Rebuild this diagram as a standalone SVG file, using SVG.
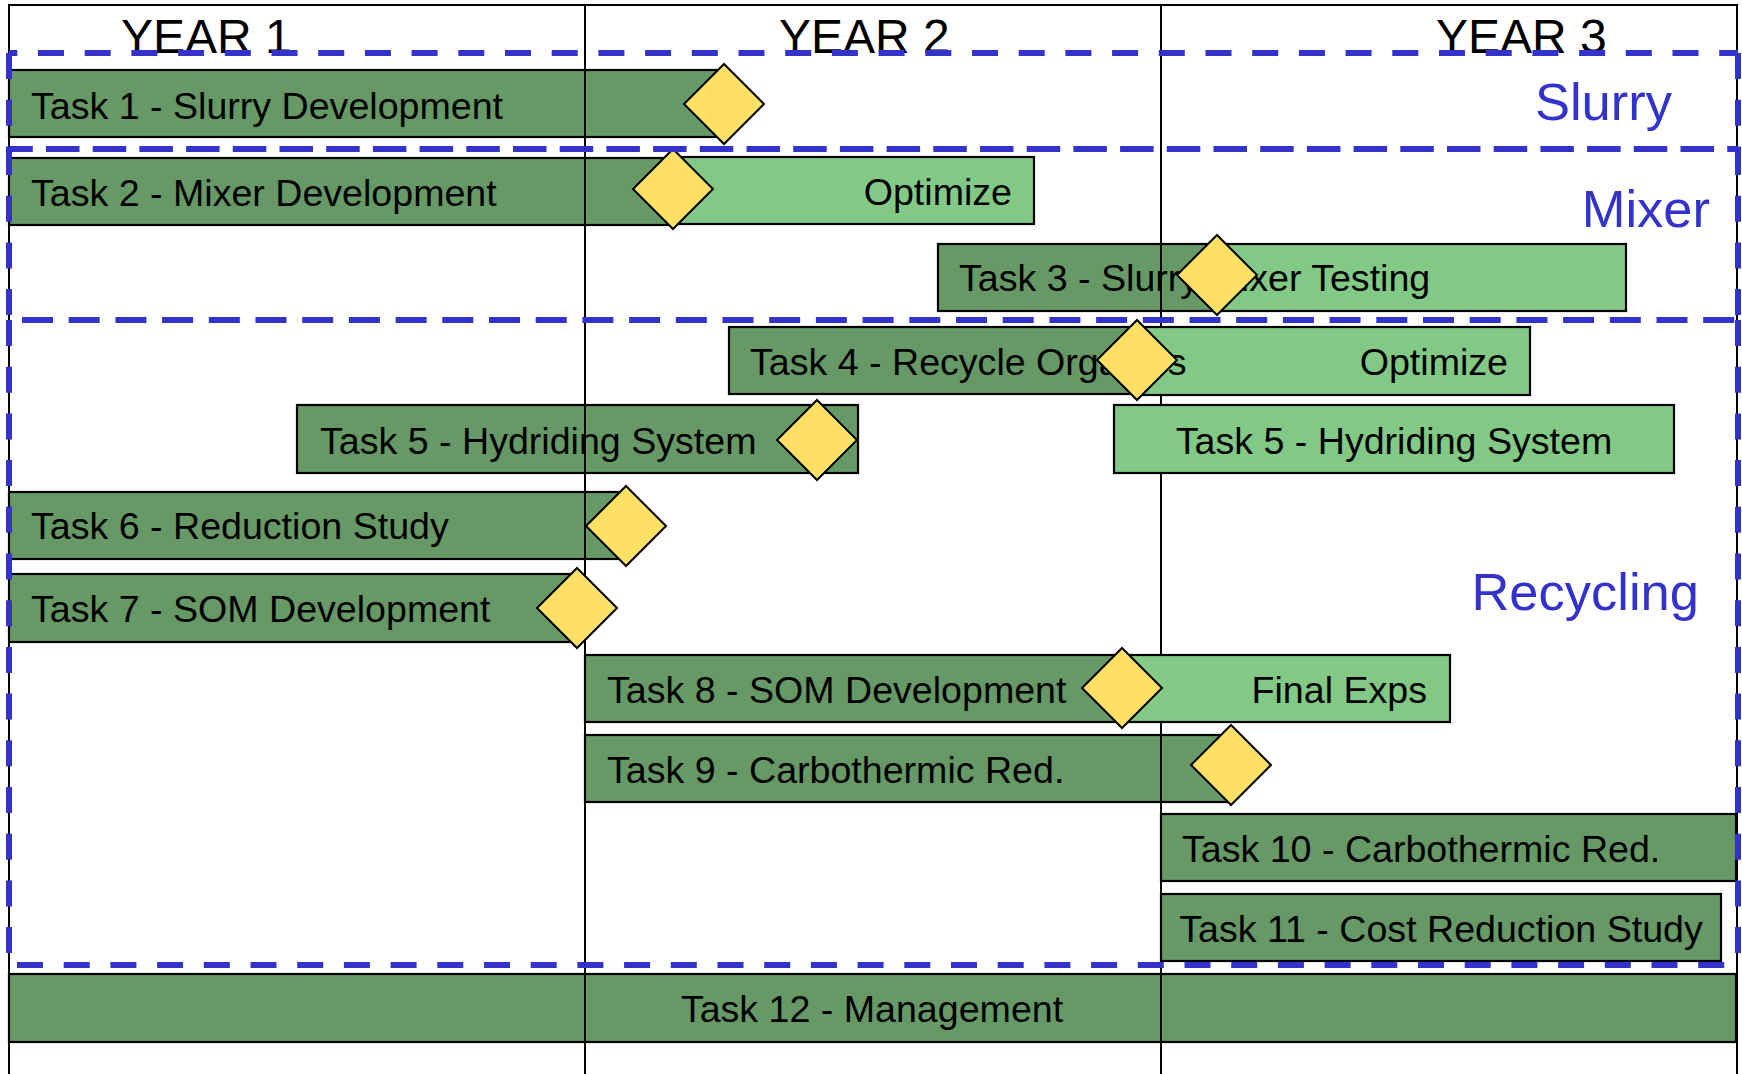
<svg xmlns="http://www.w3.org/2000/svg" width="1742" height="1074" viewBox="0 0 1742 1074">
<style>
.bg{fill:#ffffff}
.dark{fill:#669966;stroke:#000;stroke-width:2.2}
.light{fill:#83C986;stroke:#000;stroke-width:2.2}
.ms{fill:#FFE066;stroke:#000;stroke-width:2;stroke-linejoin:miter}
.t{font-family:"Liberation Sans",Arial,sans-serif;font-size:37.6px;fill:#000}
.yr{font-family:"Liberation Sans",Arial,sans-serif;font-size:48px;fill:#000}
.reg{font-family:"Liberation Sans",Arial,sans-serif;font-size:52.5px;fill:#3333CC;text-anchor:end}
.grid{stroke:#000;stroke-width:2;fill:none}
.dash{stroke:#3333CC;stroke-width:6;stroke-dasharray:26 20.7;fill:none}
.end{text-anchor:end}
.mid{text-anchor:middle}
</style>
<rect class="bg" x="0" y="0" width="1742" height="1074"/>

<!-- tasks whose dark bars sit beneath the grid lines -->
<g id="task1">
  <rect class="dark" x="9" y="70" width="715" height="67"/>
  <text class="t" x="31" y="119">Task 1 - Slurry Development</text>
  <polygon class="ms" points="724,64 764,104 724,144 684,104"/>
</g>
<g id="task2">
  <rect class="dark" x="9" y="158" width="664" height="67"/>
  <rect class="light" x="673" y="157" width="361" height="67"/>
  <text class="t" x="31" y="206">Task 2 - Mixer Development</text>
  <text class="t end" x="1012" y="205">Optimize</text>
  <polygon class="ms" points="673,149 713,189 673,229 633,189"/>
</g>
<g id="task3">
  <rect class="dark" x="938" y="244" width="279" height="67"/>
  <rect class="light" x="1217" y="244" width="409" height="67"/>
  <text class="t" x="959" y="291">Task 3 - Slurry Mixer Testing</text>
  <polygon class="ms" points="1217,235 1257,275 1217,315 1177,275"/>
</g>
<g id="task5">
  <rect class="dark" x="297" y="405" width="561" height="68"/>
  <text class="t" x="320" y="454">Task 5 - Hydriding System</text>
  <polygon class="ms" points="817,400 857,440 817,480 777,440"/>
</g>
<g id="task6">
  <rect class="dark" x="9" y="492" width="617" height="67"/>
  <text class="t" x="31" y="539">Task 6 - Reduction Study</text>
  <polygon class="ms" points="626,486 666,526 626,566 586,526"/>
</g>
<g id="task9">
  <rect class="dark" x="585" y="735" width="646" height="67"/>
  <text class="t" x="607" y="783">Task 9 - Carbothermic Red.</text>
  <polygon class="ms" points="1231,725 1271,765 1231,805 1191,765"/>
</g>
<g id="task10">
  <rect class="dark" x="1161" y="814" width="575" height="67"/>
  <text class="t" x="1182" y="862">Task 10 - Carbothermic Red.</text>
</g>
<g id="task11">
  <rect class="dark" x="1161" y="894" width="560" height="67"/>
  <text class="t mid" x="1441" y="942">Task 11 - Cost Reduction Study</text>
</g>
<g id="task12">
  <rect class="dark" x="9" y="974" width="1727" height="68"/>
  <text class="t mid" x="872" y="1022">Task 12 - Management</text>
</g>

<!-- year grid -->
<g id="grid">
  <polyline class="grid" points="9,1074 9,5 1737,5 1737,1074"/>
  <line class="grid" x1="585" y1="5" x2="585" y2="1074"/>
  <line class="grid" x1="1161" y1="5" x2="1161" y2="1074"/>
  <text class="yr" x="121" y="53">YEAR 1</text>
  <text class="yr" x="779" y="53">YEAR 2</text>
  <text class="yr" x="1436" y="53">YEAR 3</text>
</g>

<!-- tasks drawn above the grid lines -->
<g id="task4">
  <rect class="dark" x="729" y="327" width="408" height="67"/>
  <rect class="light" x="1137" y="327" width="393" height="68"/>
  <text class="t" x="750" y="375">Task 4 - Recycle Organics</text>
  <text class="t end" x="1508" y="375">Optimize</text>
  <polygon class="ms" points="1137,320 1177,360 1137,400 1097,360"/>
</g>
<g id="task5b">
  <rect class="light" x="1114" y="405" width="560" height="68"/>
  <text class="t mid" x="1394" y="454">Task 5 - Hydriding System</text>
</g>
<g id="task7">
  <rect class="dark" x="9" y="574" width="568" height="68"/>
  <text class="t" x="31" y="622">Task 7 - SOM Development</text>
  <polygon class="ms" points="577,568 617,608 577,648 537,608"/>
</g>
<g id="task8">
  <rect class="dark" x="585" y="655" width="537" height="67"/>
  <rect class="light" x="1122" y="655" width="328" height="67"/>
  <text class="t" x="607" y="703">Task 8 - SOM Development</text>
  <text class="t end" x="1427" y="703">Final Exps</text>
  <polygon class="ms" points="1122,648 1162,688 1122,728 1082,688"/>
</g>

<g id="connectors"/>

<!-- dashed region frames -->
<g id="regions">
  <line class="dash" x1="9" y1="53" x2="1738" y2="53" stroke-dashoffset="17.7"/>
  <line class="dash" x1="9" y1="149" x2="1738" y2="149" stroke-dashoffset="9.7"/>
  <line class="dash" x1="9" y1="149" x2="1738" y2="149" stroke-dashoffset="2.2"/>
  <line class="dash" x1="9" y1="320" x2="1738" y2="320" stroke-dashoffset="33.7"/>
  <line class="dash" x1="9" y1="320" x2="1738" y2="320" stroke-dashoffset="28.7"/>
  <line class="dash" x1="9" y1="965" x2="1738" y2="965" stroke-dashoffset="38.7"/>
  <line class="dash" x1="9" y1="53" x2="9" y2="149"/>
  <line class="dash" x1="9" y1="149" x2="9" y2="320"/>
  <line class="dash" x1="9" y1="320" x2="9" y2="965"/>
  <line class="dash" x1="1738" y1="53" x2="1738" y2="149"/>
  <line class="dash" x1="1738" y1="149" x2="1738" y2="320"/>
  <line class="dash" x1="1738" y1="320" x2="1738" y2="965"/>
  <text class="reg" x="1672" y="120">Slurry</text>
  <text class="reg" x="1710" y="227">Mixer</text>
  <text class="reg" x="1699" y="610">Recycling</text>
</g>
</svg>
